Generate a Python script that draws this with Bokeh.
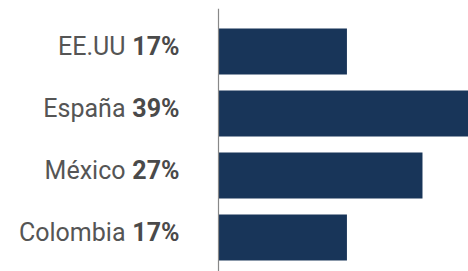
from bokeh.plotting import figure
from bokeh.models import Range1d, Span, ColumnDataSource
from bokeh.core.properties import value
from bokeh.embed import file_html
from bokeh.resources import INLINE

countries = ["EE.UU", "España", "México", "Colombia"]
shares = [17, 39, 27, 17]
share_labels = ["17%", "39%", "27%", "17%"]

ypos = list(range(len(countries)))[::-1]

src = ColumnDataSource(dict(y=ypos, v=shares, name=countries, lab=share_labels,
                            zero=[0] * len(countries)))

px_per_unit = 7.555
axis_px = 218
W, H = 468, 271
TOP = 8
p = figure(width=W, height=H, output_backend="svg", toolbar_location=None,
           x_range=Range1d(-axis_px / px_per_unit, (W - axis_px) / px_per_unit),
           y_range=Range1d(-34 / 62, 3 + 43 / 62),
           min_border=0, min_border_left=0, min_border_right=0,
           min_border_top=TOP, min_border_bottom=0)
p.outline_line_color = None
p.axis.visible = False
p.grid.visible = False
p.background_fill_color = "white"
p.border_fill_color = "white"

p.hbar(y="y", left="zero", right="v", height=46 / 62, source=src,
       fill_color="#183559", line_color=None)

p.add_layout(Span(location=0, dimension="height", line_color="#888888", line_width=1.2))

p.text(x="zero", y="y", text="lab", source=src, x_offset=-39, y_offset=-5,
       text_align="right", text_baseline="middle", text_font=value("Roboto"),
       text_font_size="25px", text_font_style="bold", text_color="#4a4a4a")
p.text(x="zero", y="y", text="name", source=src, x_offset=-93, y_offset=-5,
       text_align="right", text_baseline="middle", text_font=value("Roboto"),
       text_font_size="25px", text_color="#555555")

open("out.html", "w").write(file_html(p, INLINE))
